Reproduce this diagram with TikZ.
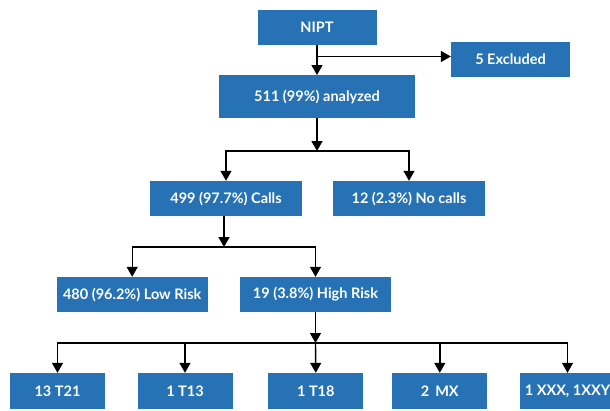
\documentclass[tikz,border=0pt]{standalone}
\usepackage{fontspec}
\setmainfont{Lato}
\usetikzlibrary{arrows.meta}
\definecolor{boxblue}{RGB}{38,114,181}
\tikzset{
  box/.style={fill=boxblue, draw=none, text=white, font=\bfseries\fontsize{14.5}{17}\selectfont, inner sep=0pt, anchor=center},
  arr/.style={draw=black, line width=1.4pt, -{Triangle[length=10pt,width=11pt]}},
  ln/.style={draw=black, line width=1.4pt}
}
\begin{document}
\begin{tikzpicture}[x=1pt,y=-1pt]
\useasboundingbox (0,0) rectangle (610,410);
\clip (0,0) rectangle (610,410);
\node[box, minimum width=119pt, minimum height=35pt] (nipt) at (317,27.5) {NIPT};
\node[box, minimum width=119pt, minimum height=35pt] (excl) at (510.5,59.2) {5 Excluded};
\node[box, minimum width=196pt, minimum height=43pt] (anal) at (317,96.7) {511 (99\%) analyzed};
\node[box, minimum width=152pt, minimum height=35pt] (calls) at (226,198.5) {499 (97.7\%) Calls};
\node[box, minimum width=152pt, minimum height=35pt] (nocalls) at (409,198.5) {12 (2.3\%) No calls};
\node[box, minimum width=151pt, minimum height=35pt] (low) at (132.2,294.5) {480 (96.2\%) Low Risk};
\node[box, minimum width=151pt, minimum height=35pt] (high) at (315.5,294.5) {19 (3.8\%) High Risk};
\node[box, minimum width=95pt, minimum height=36pt] (t21) at (57.5,391) {13 T21};
\node[box, minimum width=95pt, minimum height=36pt] (t13) at (185,391) {1 T13};
\node[box, minimum width=95pt, minimum height=36pt] (t18) at (315.8,391) {1 T18};
\node[box, minimum width=95pt, minimum height=36pt] (mx) at (439.8,391) {2\, MX};
\node[box, minimum width=95pt, minimum height=36pt] (xxx) at (567.5,391) {1 XXX, 1XXY};
\coordinate (b0) at (317,56.5);
\coordinate (j1) at (317,151);
\coordinate (j2) at (224,247);
\coordinate (j3) at (315.5,343);
% level 1
\draw[arr] (nipt.south) -- (anal.north);
\draw[arr] (b0) -- (excl.west |- b0);
% level 2
\draw[arr] (anal.south) -- (j1);
\draw[arr] (j1) -| (calls.north);
\draw[arr] (j1) -| (nocalls.north);
% level 3
\draw[arr] (calls.south -| j2) -- (j2);
\draw[arr] (j2) -| (low.north);
\draw[arr] (j2) -| (high.north);
% level 4
\draw[arr] (high.south) -- (j3);
\draw[arr] (j3) -| (t21.north);
\draw[arr] (j3) -| (t13.north);
\draw[arr] (j3) -- (t18.north);
\draw[arr] (j3) -| (mx.north);
\draw[arr] (j3) -| (xxx.north);
\end{tikzpicture}
\end{document}
